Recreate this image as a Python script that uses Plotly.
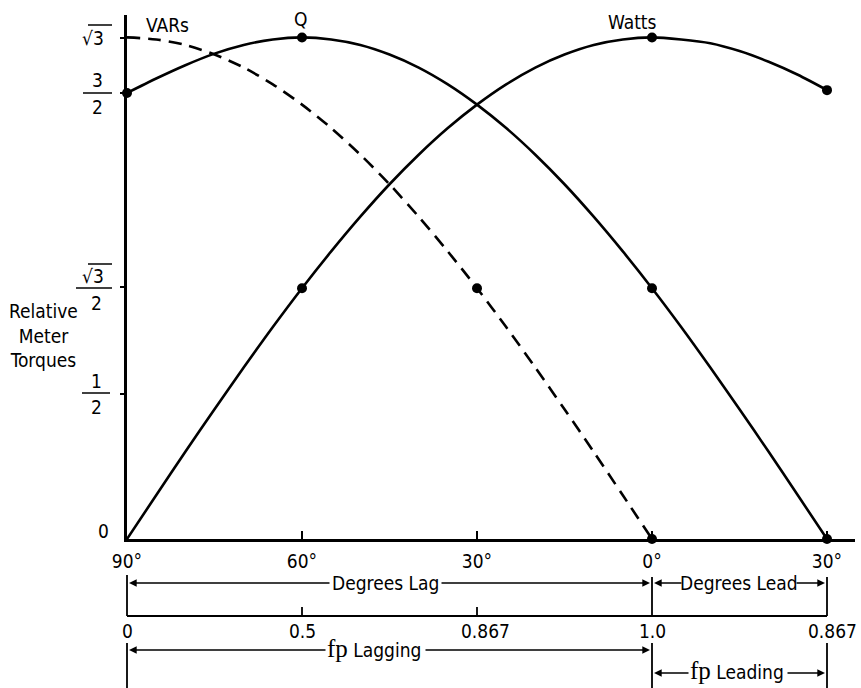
import plotly.graph_objects as go

# ---------------- data ----------------
angles = [-90, -85, -80, -75, -70, -65, -60, -55, -50, -45, -40, -35, -30,
          -25, -20, -15, -10, -5, 0, 5, 10, 15, 20, 25, 30]   # negative = lag, positive = lead
watts = [0.000, 0.151, 0.301, 0.448, 0.592, 0.732, 0.866, 0.993, 1.113, 1.225, 1.327, 1.419, 1.500,
         1.570, 1.628, 1.673, 1.706, 1.725, 1.732, 1.725, 1.712, 1.685, 1.648, 1.603, 1.550]
q_vals = [1.540, 1.590, 1.636, 1.676, 1.706, 1.725, 1.732, 1.725, 1.706, 1.673, 1.628, 1.570, 1.500,
          1.419, 1.327, 1.225, 1.113, 0.993, 0.866, 0.732, 0.592, 0.448, 0.301, 0.151, 0.000]
var_angles = [-90, -85, -80, -75, -70, -65, -60, -55, -50, -45, -40, -35, -30,
              -25, -20, -15, -10, -5, 0]
vars_vals = [1.732, 1.725, 1.706, 1.673, 1.628, 1.570, 1.500, 1.419, 1.327, 1.225, 1.113, 0.993, 0.866,
             0.732, 0.592, 0.448, 0.301, 0.151, 0.000]

watts_marked = [-60, 0, 30]
q_marked = [-90, -60, 0, 30]
vars_marked = [-30, 0]

x_tick_vals = [-90, -60, -30, 0, 30]
x_tick_text = ["90°", "60°", "30°", "0°", "30°"]
fp_tick_text = ["0", "0.5", "0.867", "1.0", "0.867"]
y_tick_vals = [0.5, 0.87, 1.54, 1.73]

# ---------------- layout helpers (pixel -> paper) ----------------
L, R_EDGE, T, B = 127, 855, 15, 539
W, H = R_EDGE - L, B - T
def PX(x):
    return (x - L) / W
def PY(y):
    return (B - y) / H

SANS = "Liberation Sans Narrow, DejaVu Sans Condensed, Arial Narrow, sans-serif"
SERIF = "Liberation Serif, DejaVu Serif, serif"
FS = 19

fig = go.Figure()

def pick(xs, ys, keep):
    px, py = [], []
    for a, v in zip(xs, ys):
        if a in keep:
            px.append(a); py.append(v)
    return px, py

fig.add_trace(go.Scatter(x=angles, y=watts, mode="lines",
                         line=dict(color="black", width=2.6, shape="spline", smoothing=0.8),
                         hoverinfo="skip", showlegend=False, cliponaxis=False))
fig.add_trace(go.Scatter(x=angles, y=q_vals, mode="lines",
                         line=dict(color="black", width=2.6, shape="spline", smoothing=0.8),
                         hoverinfo="skip", showlegend=False, cliponaxis=False))
fig.add_trace(go.Scatter(x=var_angles, y=vars_vals, mode="lines",
                         line=dict(color="black", width=2.6, shape="spline", smoothing=0.8, dash="13px,8px"),
                         hoverinfo="skip", showlegend=False, cliponaxis=False))
for xs, ys, keep in [(angles, watts, watts_marked), (angles, q_vals, q_marked), (var_angles, vars_vals, vars_marked)]:
    mx, my = pick(xs, ys, keep)
    fig.add_trace(go.Scatter(x=mx, y=my, mode="markers", marker=dict(color="black", size=10),
                             hoverinfo="skip", showlegend=False, cliponaxis=False))

ann = []
shapes = []

def text(x, y, s, size=FS, family=SANS, xanchor="center"):
    ann.append(dict(x=PX(x), y=PY(y), xref="paper", yref="paper", text=s, showarrow=False,
                    font=dict(family=family, size=size, color="black"), xanchor=xanchor, yanchor="middle"))

def hline(x0, x1, y, w=1.8):
    shapes.append(dict(type="line", xref="paper", yref="paper", x0=PX(x0), x1=PX(x1), y0=PY(y), y1=PY(y),
                       line=dict(color="black", width=w)))

def vline(x, y0, y1, w=1.8):
    shapes.append(dict(type="line", xref="paper", yref="paper", x0=PX(x), x1=PX(x), y0=PY(y0), y1=PY(y1),
                       line=dict(color="black", width=w)))

def arrow(tail, tip, y):
    ann.append(dict(x=PX(tip), y=PY(y), ax=tail - tip, ay=0, xref="paper", yref="paper",
                    text="", showarrow=True, arrowhead=2,
                    arrowsize=1.1, arrowwidth=1.4, arrowcolor="black", standoff=0, startstandoff=0))

# series labels
text(167, 25, "VARs")
text(300, 19, "Q")
text(632, 22, "Watts")

# y axis labels
text(43, 335, "Relative<br>Meter<br>Torques")
text(103, 531, "0")
# 1/2
text(96, 381, "1"); hline(82, 110, 393, 1.5); text(96, 407, "2")
# sqrt3/2
text(93, 276, "√3"); hline(88, 112, 264, 1.5); hline(76, 112, 288, 1.5); text(96, 303, "2")
# 3/2
text(97, 80, "3"); hline(83, 112, 93, 1.5); text(97, 107, "2")
# sqrt3
text(93, 38, "√3"); hline(88, 112, 25, 1.5)

# ---- lower scales ----
x_pix = [L + (a - x_tick_vals[0]) * (827 - L) / (x_tick_vals[-1] - x_tick_vals[0]) for a in x_tick_vals]
# row: degrees lag / lead
vline(x_pix[0], 575, 616)
vline(x_pix[3], 577, 616)
vline(x_pix[4], 577, 616)
text(385, 583, "Degrees Lag")
arrow(331, x_pix[0] + 2, 583)
arrow(440, x_pix[3] - 2, 583)
text(739, 583, "Degrees Lead")
arrow(683, x_pix[3] + 2, 583)
arrow(795, x_pix[4] - 2, 583)

# power-factor scale
hline(x_pix[0], x_pix[4], 616, 2)
for xp in x_pix[1:3]:
    vline(xp, 607, 616, 1.8)
for i, (xp, s) in enumerate(zip(x_pix, fp_tick_text)):
    if i == 4:
        text(859, 631, s, xanchor="right")
    else:
        off = 8 if i == 2 else 0
        text(xp + off, 631, s)

# row: fp lagging / leading
vline(x_pix[0], 643, 690)
vline(x_pix[3], 643, 690)
vline(x_pix[4], 643, 690)
fp_lag = '<span style="font-family:Liberation Serif, DejaVu Serif, serif;font-size:25px">fp</span> Lagging'
fp_lead = '<span style="font-family:Liberation Serif, DejaVu Serif, serif;font-size:25px">fp</span> Leading'
text(374, 648, fp_lag)
arrow(327, x_pix[0] + 2, 650)
arrow(424, x_pix[3] - 2, 650)
text(737, 670, fp_lead)
arrow(690, x_pix[3] + 2, 673)
arrow(786, x_pix[4] - 2, 673)

fig.update_layout(
    width=861, height=688,
    margin=dict(l=L, r=861 - R_EDGE, t=T, b=688 - B, autoexpand=False),
    paper_bgcolor="white", plot_bgcolor="white",
    annotations=ann, shapes=shapes,
    font=dict(family=SANS, size=FS, color="black"),
)
fig.update_xaxes(range=[-90, 30 + (R_EDGE - 827) / ((827 - L) / 120.0)], showgrid=False, zeroline=False,
                 showline=True, linecolor="black", linewidth=3, automargin=False,
                 tickmode="array", tickvals=x_tick_vals, ticktext=x_tick_text,
                 ticks="inside", ticklen=8, tickwidth=1.8, tickcolor="black",
                 tickfont=dict(family=SANS, size=FS), ticklabelstandoff=3)
fig.update_yaxes(range=[0, (B - T) / ((B - 38) / 1.73)], showgrid=False, zeroline=False,
                 showline=True, linecolor="black", linewidth=3, automargin=False,
                 tickmode="array", tickvals=y_tick_vals, showticklabels=False,
                 ticks="outside", ticklen=4, tickwidth=1.5, tickcolor="black")

fig.write_html("out.html", config={"displayModeBar": False},
               post_script="document.body.style.margin='0';document.body.style.overflow='hidden';")
